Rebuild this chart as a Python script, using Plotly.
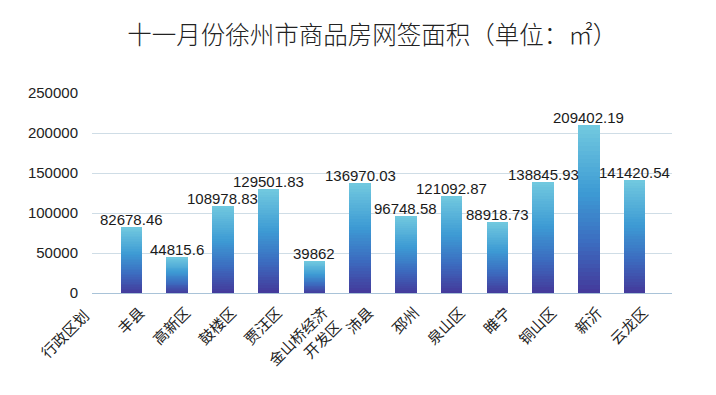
import plotly.graph_objects as go

title_text = "十一月份徐州市商品房网签面积（单位：㎡）"
header_label = "行政区划"
categories = ["丰县", "高新区", "鼓楼区", "贾汪区", "金山桥经济<br>开发区", "沛县",
              "邳州", "泉山区", "睢宁", "铜山区", "新沂", "云龙区"]
values = [82678.46, 44815.6, 108978.83, 129501.83, 39862, 136970.03,
          96748.58, 121092.87, 88918.73, 138845.93, 209402.19, 141420.54]
y_ticks = [0, 50000, 100000, 150000, 200000, 250000]

# gradient stops (bottom -> top) for bar fill
stops = [(0.0, (0x44, 0x39, 0x9a)), (0.3, (0x3c, 0x6c, 0xc0)),
         (0.6, (0x3d, 0x9b, 0xd4)), (1.0, (0x72, 0xc9, 0xdf))]

def color_at(t):
    for (t0, c0), (t1, c1) in zip(stops[:-1], stops[1:]):
        if t <= t1:
            f = (t - t0) / (t1 - t0) if t1 > t0 else 0
            return "rgb(%d,%d,%d)" % tuple(round(a + (b - a) * f) for a, b in zip(c0, c1))
    return "rgb(%d,%d,%d)" % stops[-1][1]

N = 40
fig = go.Figure()
for i in range(N):
    fig.add_trace(go.Bar(
        x=categories, y=[v / N for v in values],
        marker=dict(color=color_at((i + 0.5) / N), line=dict(width=0)),
        hoverinfo="skip", showlegend=False,
    ))

label_font = dict(family="Liberation Sans, Arial, sans-serif", size=15, color="#1a1a1a")
annotations = [dict(x=c, y=v, xref="x", yref="y", text=str(v), showarrow=False,
                    xanchor="center", yanchor="bottom", yshift=-3, font=label_font)
               for c, v in zip(categories, values)]
annotations.append(dict(text=header_label, xref="paper", yref="paper",
                        x=-0.048, y=-0.2, xanchor="center", yanchor="middle",
                        textangle=-45, showarrow=False,
                        font=dict(family="Noto Sans CJK SC", size=15, color="#222222")))

fig.update_layout(
    width=716, height=395,
    barmode="stack", bargap=0.53,
    plot_bgcolor="white", paper_bgcolor="white",
    margin=dict(l=92, r=44, t=93, b=100),
    title=dict(text=title_text, x=0.52, xanchor="center", y=0.91, yanchor="middle",
               font=dict(family="Noto Sans CJK SC", size=24.5, color="#222222", weight=300)),
    xaxis=dict(type="category", range=[-0.86, 11.82], tickangle=-45,
               tickfont=dict(family="Noto Sans CJK SC", size=15, color="#222222"),
               ticklabelshift=9, ticklabelstandoff=4,
               showgrid=False, showline=True, linecolor="#a9c3d8", linewidth=1,
               ticks=""),
    yaxis=dict(range=[0, 250000], tickvals=y_ticks, ticktext=[str(t) for t in y_ticks],
               showgrid=True, gridcolor="#cfdde6", gridwidth=1, zeroline=False,
               tickfont=dict(family="Liberation Sans, Arial, sans-serif", size=15, color="#222222"),
               ticks="outside", ticklen=10, tickcolor="rgba(0,0,0,0)"),
    annotations=annotations,
)

fig.write_html("out.html", config={"displayModeBar": False},
               post_script="document.body.style.margin='0';")
